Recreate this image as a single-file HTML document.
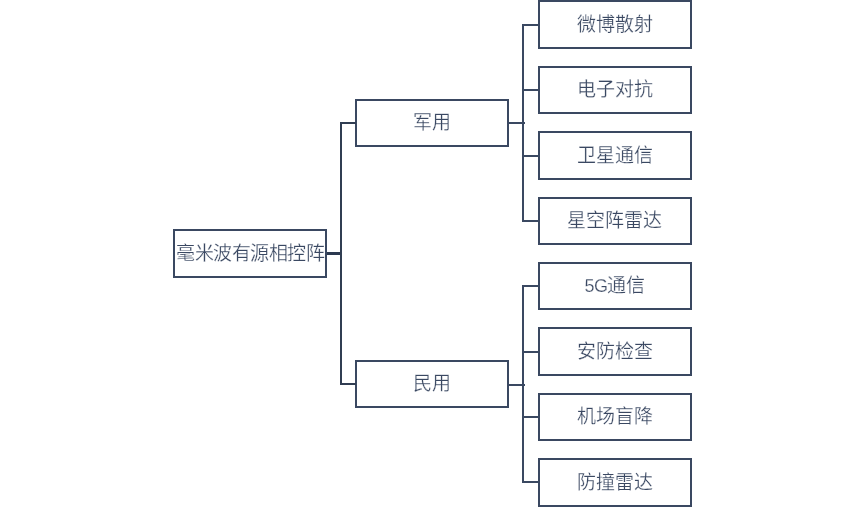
<!DOCTYPE html>
<html lang="zh-CN"><head><meta charset="utf-8"><title>毫米波有源相控阵</title>
<style>
html,body{margin:0;padding:0;background:#fff;width:865px;height:507px;overflow:hidden;position:relative}
body{font-family:"Liberation Sans",sans-serif}
.b{position:absolute;box-sizing:border-box;border:2px solid #3a4861;background:#fff;font-size:19px;line-height:19px;color:#3a4862;white-space:nowrap;text-align:center}
.b>span{display:block;position:absolute;left:0;right:0;-webkit-text-stroke:0.25px #fff}
.b span.m{letter-spacing:-0.5px;left:0.5px}
.b span.lat{display:inline;font-size:18px;letter-spacing:-0.6px}
i{position:absolute;display:block;background:#3a4861}
#w{position:absolute;left:0;top:0;width:865px;height:507px;transform:translateZ(0)}
</style></head><body>
<div id="w">
<div class="b" style="left:173px;top:229px;width:154px;height:49px"><span class="m" style="top:13px">毫米波有源相控阵</span></div>
<div class="b" style="left:355px;top:99px;width:154px;height:48px"><span style="top:12px">军用</span></div>
<div class="b" style="left:355px;top:360px;width:154px;height:48px"><span style="top:12px">民用</span></div>
<div class="b" style="left:538px;top:0px;width:154px;height:49px"><span style="top:13px">微博散射</span></div>
<div class="b" style="left:538px;top:66px;width:154px;height:48px"><span style="top:12px">电子对抗</span></div>
<div class="b" style="left:538px;top:131px;width:154px;height:49px"><span style="top:13px">卫星通信</span></div>
<div class="b" style="left:538px;top:197px;width:154px;height:48px"><span style="top:12px;margin-left:-1px">星空阵雷达</span></div>
<div class="b" style="left:538px;top:262px;width:154px;height:48px"><span style="top:12px"><span class="lat">5G</span>通信</span></div>
<div class="b" style="left:538px;top:327px;width:154px;height:49px"><span style="top:13px">安防检查</span></div>
<div class="b" style="left:538px;top:393px;width:154px;height:48px"><span style="top:12px">机场盲降</span></div>
<div class="b" style="left:538px;top:458px;width:154px;height:49px"><span style="top:13px">防撞雷达</span></div>
<i style="left:327px;top:252px;width:15px;height:3px;background:#2c3950"></i>
<i style="left:340px;top:122px;width:2px;height:263px;background:#303d52"></i>
<i style="left:340px;top:122px;width:16px;height:2px;background:#303d52"></i>
<i style="left:340px;top:383px;width:16px;height:2px;background:#303d52"></i>
<i style="left:509px;top:122px;width:16px;height:2px"></i>
<i style="left:509px;top:384px;width:16px;height:2px"></i>
<i style="left:522px;top:24px;width:2px;height:198px"></i>
<i style="left:522px;top:285px;width:2px;height:198px"></i>
<i style="left:522px;top:24px;width:17px;height:2px"></i>
<i style="left:522px;top:89px;width:17px;height:2px"></i>
<i style="left:522px;top:155px;width:17px;height:2px"></i>
<i style="left:522px;top:220px;width:17px;height:2px"></i>
<i style="left:522px;top:285px;width:17px;height:2px"></i>
<i style="left:522px;top:351px;width:17px;height:2px"></i>
<i style="left:522px;top:416px;width:17px;height:2px"></i>
<i style="left:522px;top:481px;width:17px;height:2px"></i>
</div>
</body></html>
